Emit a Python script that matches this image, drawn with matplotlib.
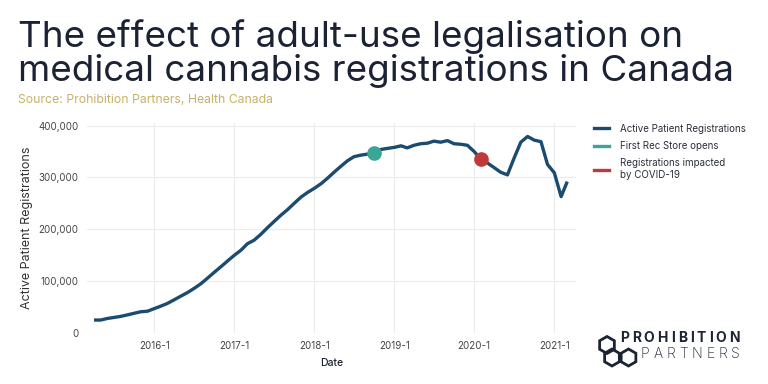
import matplotlib
matplotlib.use("Agg")
import matplotlib.pyplot as plt
from matplotlib.patches import RegularPolygon
from matplotlib.lines import Line2D
import pandas as pd

start_month = "2015-04-01"
registrations = [
    25000, 25000, 28000, 30000, 32000, 35000, 38000, 41000, 42000,
    47000, 52000, 57000, 64000, 71000, 78000, 86000, 95000, 106000, 117000, 128000, 139000,
    150000, 160000, 172000, 179000, 190000, 203000, 215000, 227000, 238000, 250000, 262000, 271000,
    279000, 288000, 298000, 310000, 321000, 332000, 340000, 343000, 345000, 347000, 354000, 356000,
    358000, 361000, 357000, 362000, 365000, 366000, 370000, 368000, 371000, 365000, 364000, 362000,
    350000, 335000, 328000, 319000, 310000, 305000, 337000, 368000, 379000, 372000, 369000, 325000,
    309000, 263000, 292000,
]
rec_store_date = "2018-10-01"
rec_store_value = 347000
covid_date = "2020-02-01"
covid_value = 335000
y_ticks = [0, 100000, 200000, 300000, 400000]
x_tick_years = [2016, 2017, 2018, 2019, 2020, 2021]
legend_labels = ["Active Patient Registrations", "First Rec Store opens",
                 "Registrations impacted\nby COVID-19"]

dates = pd.date_range(start_month, periods=len(registrations), freq="MS")

NAVY = "#1c4b70"
GREEN = "#3aa796"
RED = "#c0393b"
TXT = "#1a2233"
GRID = "#ececec"
FONT = "Inter"

fig = plt.figure(figsize=(7.68, 3.84), dpi=100)
fig.patch.set_facecolor("white")

ax = fig.add_axes([87/768, 1-333/384, (576-87)/768, (333-123)/384])
ax.plot(dates, registrations, color=NAVY, lw=2.4, solid_capstyle="butt", zorder=3)
ax.plot(pd.to_datetime([rec_store_date]), [rec_store_value], "o", color=GREEN, ms=9.5, zorder=4)
ax.plot(pd.to_datetime([covid_date]), [covid_value], "o", color=RED, ms=9.5, zorder=4)

ax.set_xlim(pd.Timestamp("2015-02-28"), pd.Timestamp("2021-04-10"))
ax.set_ylim(0, 405000)
ax.set_yticks(y_ticks)
ax.set_yticklabels([f"{v:,}" for v in y_ticks])
xt = [pd.Timestamp(f"{y}-01-01") for y in x_tick_years]
ax.set_xticks(xt)
ax.set_xticklabels([f"{y}-1" for y in x_tick_years])
for s in ax.spines.values():
    s.set_visible(False)
ax.grid(True, color=GRID, lw=0.8)
ax.set_axisbelow(True)
ax.tick_params(length=0, labelsize=7, labelcolor="#444444", pad=6)
for lab in ax.get_xticklabels() + ax.get_yticklabels():
    lab.set_fontfamily(FONT)
ax.set_xlabel("Date", fontsize=7.5, color=TXT, family=FONT, weight="medium")
ax.xaxis.set_label_coords(0.5, -25/210)
ax.set_ylabel("Active Patient Registrations", fontsize=9, color="#333333", family=FONT)
ax.yaxis.set_label_coords(-(87-33)/489, 0.5)

handles = [Line2D([0], [0], color=NAVY, lw=2.4),
           Line2D([0], [0], color=GREEN, lw=2.4),
           Line2D([0], [0], color=RED, lw=2.4)]
leg = fig.legend(handles, legend_labels, loc="upper left", bbox_to_anchor=(585/768, 1-115/384),
                 frameon=False, prop={"family": FONT, "size": 7}, handlelength=1.6,
                 handletextpad=1.1, labelspacing=0.75)
for t in leg.get_texts():
    t.set_color("#2a2f3a")

fig.text(18/768, 1-47/384, "The effect of adult-use legalisation on", fontsize=26.5,
         family=FONT, weight="normal", color=TXT, va="baseline")
fig.text(18/768, 1-81/384, "medical cannabis registrations in Canada", fontsize=26.5,
         family=FONT, weight="normal", color=TXT, va="baseline")
fig.text(18/768, 1-100/384, "Source: Prohibition Partners, Health Canada", fontsize=8.8,
         family=FONT, weight="normal", color="#c9b068", va="center")

# logo
for cx, cy in [(607, 345), (612, 357.5), (628.5, 357.5)]:
    hexp = RegularPolygon((cx/100, (384-cy)/100), 6, radius=0.085, orientation=0,
                          transform=fig.dpi_scale_trans, fill=False, ec="#1c2333", lw=2.0)
    fig.patches.append(hexp)

renderer = fig.canvas.get_renderer()


def tracked(word, x0, x1, ycen, size, weight):
    widths = []
    for ch in word:
        t = fig.text(0, 0, ch, fontsize=size, family=FONT, weight=weight)
        widths.append(t.get_window_extent(renderer).width)
        t.remove()
    gap = (x1 - x0 - sum(widths)) / (len(word) - 1)
    x = x0
    for ch, w in zip(word, widths):
        fig.text(x/768, 1-ycen/384, ch, fontsize=size, family=FONT, weight=weight,
                 color="#1c2333", va="center", ha="left")
        x += w + gap


tracked("PROHIBITION", 620, 740, 338, 10, "bold")
tracked("PARTNERS", 641, 740, 354, 10, "light")

fig.savefig("out.png", dpi=100, facecolor="white")
